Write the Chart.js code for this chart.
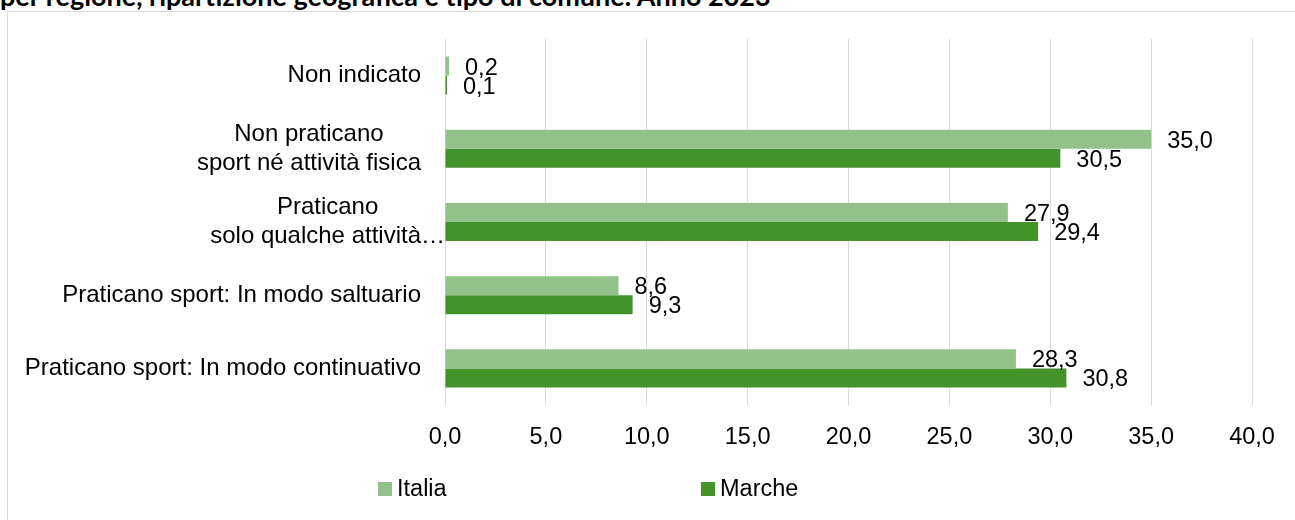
<!DOCTYPE html>
<html lang="it">
<head>
  <meta charset="UTF-8">
  <title>Pratica sportiva - Italia e Marche</title>
  <style>
    body {
      margin: 0;
      width: 1295px;
      height: 520px;
      overflow: hidden;
      background: #ffffff;
      font-family: "Liberation Sans", Arial, sans-serif;
      position: relative;
    }

    .title {
      position: absolute;
      left: 0;
      top: -18px;
      font-family: Lato, "Open Sans", sans-serif;
      font-weight: bold;
      font-size: 27px;
      line-height: 1;
      color: #000;
      white-space: nowrap;
    }

    .frame {
      position: absolute;
      left: 7px;
      top: 11px;
      width: 1300px;
      height: 520px;
      border: 1px solid #d9d9d9;
      box-sizing: border-box;
      background: #ffffff;
    }

    #chart {
      position: absolute;
      left: 0;
      top: 0;
    }
  </style>
</head>
<body>

  <div class="title">per regione, ripartizione geografica e tipo di comune. Anno 2023</div>
  <div class="frame"></div>
  <canvas id="chart" width="1295" height="520"></canvas>

  <script src="https://cdn.jsdelivr.net/npm/chart.js"></script>

  <script>
    const categories = [
      ["Non indicato"],
      ["Non praticano", "sport né attività fisica"],
      ["Praticano", "solo qualche attività…"],
      ["Praticano sport: In modo saltuario"],
      ["Praticano sport: In modo continuativo"]
    ];
    const italia = [0.2, 35.0, 27.9, 8.6, 28.3];
    const marche = [0.1, 30.5, 29.4, 9.3, 30.8];
    const seriesNames = ["Italia", "Marche"];
    const seriesColors = ["#93c18a", "#44922a"];

    const FONT = '"Liberation Sans", Arial, sans-serif';
    const fmt = v => v.toFixed(1).replace(".", ",");

    // category labels: lines centred on each other, block right-aligned
    const categoryLabels = {
      id: "categoryLabels",
      afterDraw(chart) {
        const ctx = chart.ctx;
        const y = chart.scales.y;
        ctx.save();
        ctx.font = "24px " + FONT;
        ctx.fillStyle = "#000";
        ctx.textAlign = "center";
        ctx.textBaseline = "middle";
        const lh = 29;
        categories.forEach((lines, i) => {
          const cy = y.getPixelForTick(i);
          const w = Math.max(...lines.map(l => ctx.measureText(l).width));
          const right = lines[1] && lines[1].endsWith("…") ? chart.chartArea.left : chart.chartArea.left - 24;
          const cx = right - w / 2;
          lines.forEach((l, k) => {
            ctx.fillText(l, cx, cy + (k - (lines.length - 1) / 2) * lh);
          });
        });
        ctx.restore();
      }
    };

    // value labels to the right of each bar
    const valueLabels = {
      id: "valueLabels",
      afterDatasetsDraw(chart) {
        const ctx = chart.ctx;
        ctx.save();
        ctx.font = "23.5px " + FONT;
        ctx.fillStyle = "#000";
        ctx.textAlign = "left";
        ctx.textBaseline = "middle";
        chart.data.datasets.forEach((ds, di) => {
          chart.getDatasetMeta(di).data.forEach((bar, i) => {
            ctx.fillText(fmt(ds.data[i]), bar.x + 16, bar.y + 2);
          });
        });
        ctx.restore();
      }
    };

    // legend at the bottom, spread like the original
    const bottomLegend = {
      id: "bottomLegend",
      afterDraw(chart) {
        const ctx = chart.ctx;
        const xs = [378, 701];
        ctx.save();
        ctx.font = "23.5px " + FONT;
        ctx.textBaseline = "middle";
        ctx.textAlign = "left";
        seriesNames.forEach((name, i) => {
          ctx.fillStyle = seriesColors[i];
          ctx.fillRect(xs[i], 482, 14, 14);
          ctx.fillStyle = "#000";
          ctx.fillText(name, xs[i] + 19, 490);
        });
        ctx.restore();
      }
    };

    new Chart(document.getElementById("chart"), {
      type: "bar",
      data: {
        labels: categories,
        datasets: [
          { label: seriesNames[0], data: italia, backgroundColor: seriesColors[0] },
          { label: seriesNames[1], data: marche, backgroundColor: seriesColors[1] }
        ]
      },
      options: {
        indexAxis: "y",
        responsive: false,
        animation: false,
        layout: { padding: { left: 8, top: 39, right: 43, bottom: 0 } },
        datasets: {
          bar: { categoryPercentage: 0.52, barPercentage: 1.0 }
        },
        scales: {
          x: {
            min: 0,
            max: 40,
            ticks: {
              stepSize: 5,
              padding: 18,
              color: "#000",
              font: { family: FONT, size: 23.5 },
              callback: v => fmt(v)
            },
            grid: { color: "#d9d9d9", lineWidth: 1, drawTicks: false },
            border: { display: false },
            afterFit: s => { s.height = 115; }
          },
          y: {
            ticks: { display: false },
            grid: { display: false },
            border: { display: false },
            afterFit: s => { s.width = 437; }
          }
        },
        plugins: {
          legend: { display: false },
          tooltip: { enabled: false }
        }
      },
      plugins: [categoryLabels, valueLabels, bottomLegend]
    });
  </script>

</body>
</html>
